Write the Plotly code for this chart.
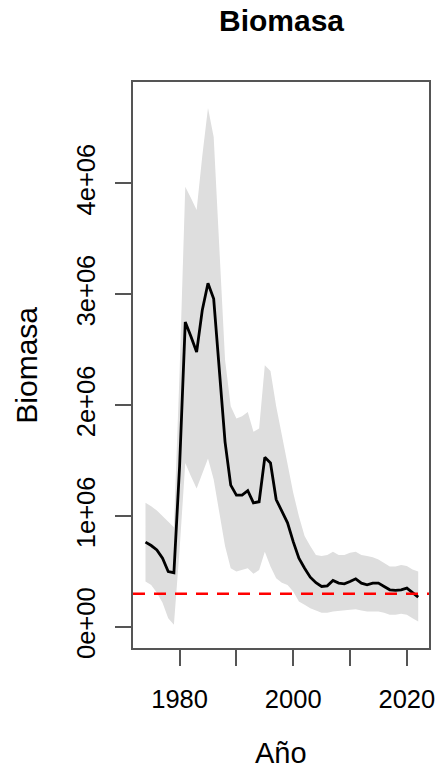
import plotly.graph_objects as go

years = list(range(1974, 2023))
biomasa = [0.766, 0.735, 0.696, 0.62, 0.50, 0.49, 1.45, 2.75, 2.62, 2.48,
           2.86, 3.10, 2.96, 2.28, 1.67, 1.28, 1.19, 1.19, 1.23, 1.12,
           1.13, 1.53, 1.48, 1.15, 1.04, 0.94, 0.77, 0.62, 0.53, 0.45,
           0.40, 0.366, 0.372, 0.42, 0.396, 0.39, 0.41, 0.435, 0.396, 0.381,
           0.396, 0.396, 0.366, 0.336, 0.33, 0.336, 0.351, 0.312, 0.27]
upper = [1.12, 1.09, 1.05, 1.00, 0.95, 0.90, 2.3, 3.97, 3.87, 3.76,
         4.25, 4.68, 4.42, 3.37, 2.41, 1.99, 1.88, 1.90, 1.94, 1.76,
         1.79, 2.36, 2.31, 1.99, 1.72, 1.48, 1.21, 1.00, 0.82, 0.73,
         0.65, 0.64, 0.65, 0.68, 0.65, 0.65, 0.67, 0.68, 0.65, 0.64,
         0.63, 0.61, 0.58, 0.545, 0.545, 0.56, 0.55, 0.52, 0.50]
lower = [0.41, 0.38, 0.31, 0.22, 0.08, 0.02, 0.70, 1.48, 1.36, 1.25,
         1.39, 1.52, 1.33, 1.03, 0.73, 0.53, 0.50, 0.515, 0.53, 0.48,
         0.515, 0.68, 0.545, 0.44, 0.40, 0.38, 0.32, 0.23, 0.20, 0.17,
         0.15, 0.13, 0.13, 0.14, 0.15, 0.15, 0.156, 0.16, 0.15, 0.14,
         0.14, 0.14, 0.13, 0.11, 0.11, 0.12, 0.11, 0.08, 0.05]
scale = 1e6
ref_level = 3e5

x_ticks = [1980, 1990, 2000, 2010, 2020]
x_ticktext = ["1980", "", "2000", "", "2020"]
y_ticks = [0, 1e6, 2e6, 3e6, 4e6]
y_ticktext = ["0e+00", "1e+06", "2e+06", "3e+06", "4e+06"]

FONT = "Liberation Sans, Arial, sans-serif"

fig = go.Figure()
fig.add_trace(go.Scatter(
    x=years + years[::-1],
    y=[u * scale for u in upper] + [l * scale for l in lower[::-1]],
    fill="toself", fillcolor="#DEDEDE", line=dict(width=0),
    mode="lines", hoverinfo="skip", showlegend=False))
fig.add_trace(go.Scatter(
    x=years, y=[b * scale for b in biomasa], mode="lines",
    line=dict(color="black", width=2.8), showlegend=False))
fig.add_shape(type="line", xref="paper", x0=0, x1=1, yref="y",
              y0=ref_level, y1=ref_level,
              line=dict(color="#FF0000", width=2.5, dash="12px,9px"))

axis_common = dict(showgrid=False, zeroline=False, showline=True, mirror=True,
                   linecolor="#555555", linewidth=1.5, ticks="outside",
                   ticklen=16, tickwidth=1.5, tickcolor="#555555",
                   tickfont=dict(family=FONT, size=25.5, color="black"))

fig.update_xaxes(range=[1971.8, 2023.9], tickmode="array", tickvals=x_ticks,
                 ticktext=x_ticktext, ticklabelstandoff=12, **axis_common)
fig.update_yaxes(range=[-0.189e6, 4.915e6], tickmode="array", tickvals=y_ticks,
                 ticktext=y_ticktext, tickangle=-90, ticklabelstandoff=10,
                 **axis_common)

H_PLOT = 776 - 82 - 128
def py(pix):
    return (776 - 128 - pix) / H_PLOT

fig.add_annotation(text="<b>Biomasa</b>", xref="paper", yref="paper",
                   x=0.5, y=py(21), xanchor="center", yanchor="middle",
                   showarrow=False, font=dict(family=FONT, size=30, color="black"))
fig.add_annotation(text="Año", xref="paper", yref="paper",
                   x=0.5, y=py(753), xanchor="center", yanchor="middle",
                   showarrow=False, font=dict(family=FONT, size=29, color="black"))
fig.add_annotation(text="Biomasa", xref="paper", yref="paper",
                   x=(24 - 133) / 300.6, y=py(365), xanchor="center", yanchor="middle",
                   textangle=-90, showarrow=False,
                   font=dict(family=FONT, size=30, color="black"))

fig.update_layout(width=447, height=776,
                  margin=dict(l=133, r=14, t=82, b=128),
                  plot_bgcolor="white", paper_bgcolor="white")

fig.write_html("out.html")
